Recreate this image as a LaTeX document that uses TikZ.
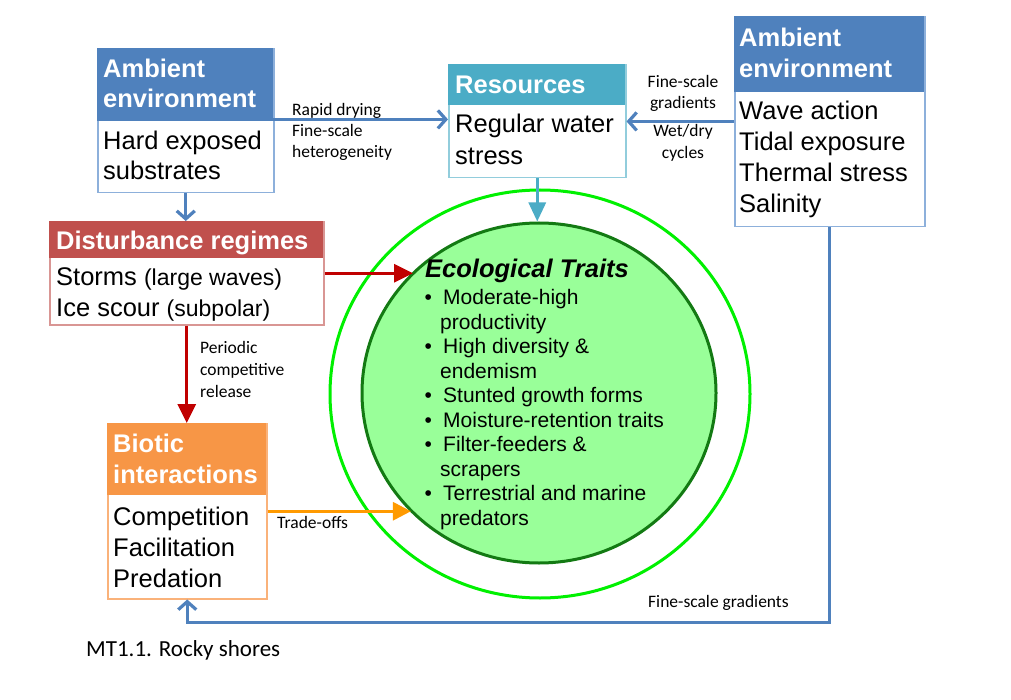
\documentclass[tikz,border=0pt]{standalone}
\usepackage{fontspec}
\setmainfont{Liberation Sans}
\newfontfamily\lblfont{Carlito}
\usetikzlibrary{arrows.meta,shapes.geometric}

\definecolor{envblue}{HTML}{4F81BD}
\definecolor{envline}{HTML}{8DB0DB}
\definecolor{resaqua}{HTML}{4BACC6}
\definecolor{resline}{HTML}{92CDDC}
\definecolor{disred}{HTML}{C0504D}
\definecolor{disline}{HTML}{D99694}
\definecolor{bioorange}{HTML}{F79646}
\definecolor{bioline}{HTML}{FAB27A}
\definecolor{arrred}{HTML}{C00000}
\definecolor{arrorange}{HTML}{FF9A00}
\definecolor{ringgreen}{HTML}{00F000}
\definecolor{traitfill}{HTML}{99FF99}
\definecolor{traitline}{HTML}{137A13}

% stacked lines whose baseline is that of the first line
\newcommand\rowsL[1]{\vtop{\halign{##\hfil\cr#1\crcr}}}
\newcommand\rowsC[1]{\vtop{\halign{\hfil##\hfil\cr#1\crcr}}}
\newcommand\fsz[2]{\fontsize{#1}{#2}\selectfont}

\begin{document}
\begin{tikzpicture}[x=1pt,y=-1pt,
  boxbody/.style={draw=#1, line width=1.5pt, fill=white, anchor=north west, inner sep=0pt},
  boxhead/.style={fill=#1, anchor=north west, inner sep=0pt},
  bodytxt/.style={inner sep=0pt, anchor=base west},
  headtxt/.style={inner sep=0pt, anchor=base west, text=white},
  lbl/.style={inner sep=0pt, anchor=base west},
  lblc/.style={inner sep=0pt, anchor=base},
  bluearr/.style={draw=envblue, line width=3.2pt, -{Straight Barb[length=8pt,width=18pt]}},
  aquaarr/.style={draw=resaqua, line width=3pt, -{Triangle[length=19pt,width=17pt]}},
  redarr/.style={draw=arrred, line width=3pt, -{Triangle[length=19pt,width=18pt]}},
  orangearr/.style={draw=arrorange, line width=3pt, -{Triangle[length=18pt,width=18pt]}},
]
\useasboundingbox (0,0) rectangle (1011,700);
\fill[white] (0,0) rectangle (1011,700);

% central trait circles
\node[ellipse, draw=ringgreen, line width=3pt, minimum width=420pt, minimum height=408pt, inner sep=0pt] (ring) at (540,394) {};
\node[ellipse, draw=traitline, fill=traitfill, line width=3pt, minimum width=354pt, minimum height=340pt, inner sep=0pt] (traits) at (539,393) {};

% boxes: outline with header band
\node[boxbody=envline, minimum width=176pt, minimum height=144pt] (amb1) at (97,48) {};
\node[boxhead=envblue, minimum width=176pt, minimum height=73pt] (amb1h) at (97,48) {};

\node[boxbody=resline, minimum width=177pt, minimum height=113pt] (res) at (448,64) {};
\node[boxhead=resaqua, minimum width=177pt, minimum height=41pt] (resh) at (448,64) {};

\node[boxbody=envline, minimum width=190pt, minimum height=210pt] (amb2) at (734,16) {};
\node[boxhead=envblue, minimum width=190pt, minimum height=76pt] (amb2h) at (734,16) {};

\node[boxbody=disline, minimum width=274pt, minimum height=103pt] (dist) at (49,221) {};
\node[boxhead=disred, minimum width=274pt, minimum height=37pt] (disth) at (49,221) {};

\node[boxbody=bioline, minimum width=159pt, minimum height=175pt] (bio) at (107,423) {};
\node[boxhead=bioorange, minimum width=159pt, minimum height=72pt] (bioh) at (107,423) {};

% box texts
\node[headtxt, font=\bfseries\fsz{25.5}{30}] (amb1ht) at (103,78) {\rowsL{Ambient\cr environment}};
\node[bodytxt, font=\fsz{25.5}{30}] (amb1t) at (103,150) {\rowsL{Hard exposed\cr substrates}};

\node[headtxt, font=\bfseries\fsz{25.5}{30}] (resht) at (455,94) {Resources};
\node[bodytxt, font=\fsz{25.5}{32}] (rest) at (455,133) {\rowsL{Regular water\cr stress}};

\node[headtxt, font=\bfseries\fsz{25.5}{31}] (amb2ht) at (739,47) {\rowsL{Ambient\cr environment}};
\node[bodytxt, font=\fsz{25.5}{30.7}] (amb2t) at (739,120) {\rowsL{Wave action\cr Tidal exposure\cr Thermal stress\cr Salinity}};

\node[headtxt, font=\bfseries\fsz{25.5}{30}] (distht) at (56,250) {Disturbance regimes};
\node[bodytxt, font=\fsz{25.5}{31}] (distt) at (56,286) {\rowsL{Storms {\fsz{23}{31}(large waves)}\cr Ice scour {\fsz{23}{31}(subpolar)}}};

\node[headtxt, font=\bfseries\fsz{25.5}{31}] (bioht) at (113,452) {\rowsL{Biotic\cr interactions}};
\node[bodytxt, font=\fsz{25.5}{31}] (biot) at (113,525) {\rowsL{Competition\cr Facilitation\cr Predation}};

% trait list
\node[bodytxt, font=\bfseries\itshape\fsz{25.5}{30}] (traitsttl) at (425,278) {Ecological Traits};
\node[bodytxt, font=\fsz{21}{24.45}] (traitslist) at (424.5,305) {\rowsL{%
\makebox[18.5pt][l]{•}Moderate-high\cr
\hspace*{15.5pt}productivity\cr
\makebox[18.5pt][l]{•}High diversity \&\cr
\hspace*{15.5pt}endemism\cr
\makebox[18.5pt][l]{•}Stunted growth forms\cr
\makebox[18.5pt][l]{•}Moisture-retention traits\cr
\makebox[18.5pt][l]{•}Filter-feeders \&\cr
\hspace*{15.5pt}scrapers\cr
\makebox[18.5pt][l]{•}Terrestrial and marine\cr
\hspace*{15.5pt}predators}};

% connectors
\coordinate (p1) at ([yshift=2pt]amb1h.south east);
\draw[bluearr] (p1) -- (p1 -| res.west);
\coordinate (p2) at ([yshift=-29pt]amb2h.south west);
\draw[bluearr] (p2) -- (p2 -| res.east);
\draw[bluearr] (amb1.south) -- (amb1.south |- dist.north);
\draw[aquaarr] (res.south) -- (res.south |- traits.north);
\draw[redarr] (dist.east) -- (dist.east -| traits.136);
\draw[redarr] (dist.south) -- (dist.south |- bio.north);
\draw[orangearr] (bio.east) -- (bio.east -| traits.223);
\draw[bluearr] (amb2.south) |- ([yshift=-23pt]bio.south) -- (bio.south);

% connector labels
\node[lbl, font=\lblfont\fsz{17.5}{21}] (l1) at (292,116) {\rowsL{Rapid drying\cr Fine-scale\cr heterogeneity}};
\node[lblc, font=\lblfont\fsz{17.5}{20.5}] (l2) at (683,88) {\rowsC{Fine-scale\cr gradients}};
\node[lblc, font=\lblfont\fsz{17.5}{21.5}] (l3) at (683,137) {\rowsC{Wet/dry\cr cycles}};
\node[lbl, font=\lblfont\fsz{17.5}{22}] (l4) at (200,353) {\rowsL{Periodic\cr competitive\cr release}};
\node[lbl, font=\lblfont\fsz{17.5}{21}] (l5) at (277,528) {Trade-offs};
\node[lbl, font=\lblfont\fsz{17.5}{21}] (l6) at (648,607) {Fine-scale gradients};

% caption
\node[lbl, font=\lblfont\fsz{23}{28}] (caption) at (86,656) {MT1.1. Rocky shores};
\end{tikzpicture}
\end{document}
